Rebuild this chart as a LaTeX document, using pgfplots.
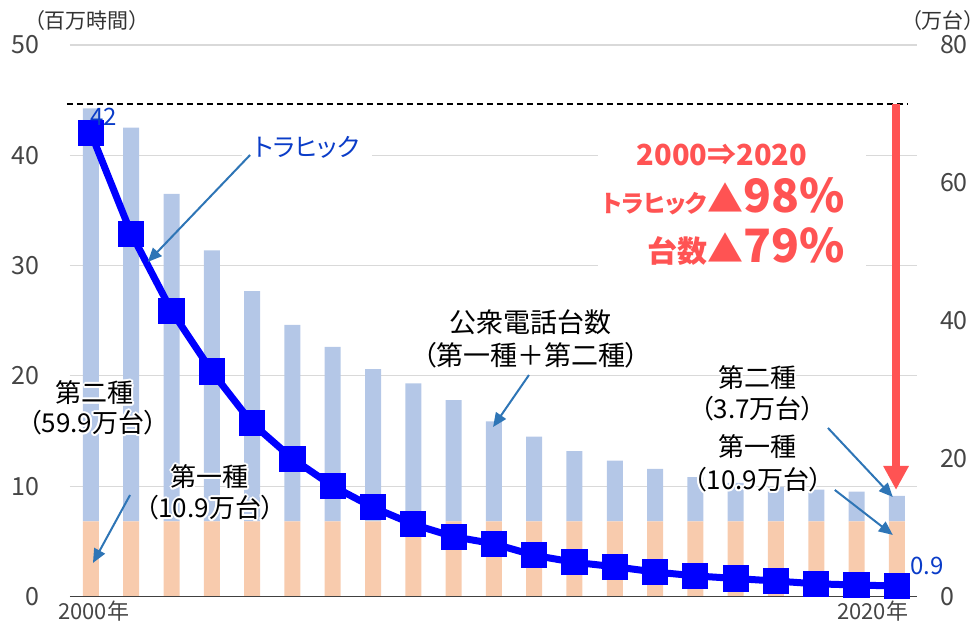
\documentclass[border=0pt]{standalone}
\usepackage{fontspec}
\setmainfont{Noto Sans CJK JP}[RawFeature=+palt]
\usepackage{pgfplots}
\pgfplotsset{compat=1.18}
\usetikzlibrary{arrows.meta}
\definecolor{barblue}{HTML}{B4C7E7}
\definecolor{barorange}{HTML}{F8CBAD}
\definecolor{lineblue}{HTML}{0000FF}
\definecolor{lblblue}{HTML}{0A3CC8}
\definecolor{arrowblue}{HTML}{2E75B6}
\definecolor{redc}{HTML}{FF5353}
\definecolor{gridc}{HTML}{D9D9D9}
\definecolor{tickc}{HTML}{454545}
\definecolor{basec}{HTML}{404040}
\newcommand{\fs}[1]{\fontsize{#1}{#1}\selectfont}
\newcommand{\glownode}[3]{%
  \foreach \a in {0,30,...,330}{\node[text=white, font=#2, inner sep=0pt] at ([shift={(\a:1pt)}]#1) {#3};}
  \node[text=black, font=#2, inner sep=0pt] at (#1) {#3};}
\pgfplotstableread{
x orange blue line
0  10.9 59.9 42.0
1  10.9 57.1 32.9
2  10.9 47.5 25.9
3  10.9 39.3 20.4
4  10.9 33.4 15.7
5  10.9 28.5 12.5
6  10.9 25.3 10.0
7  10.9 22.1 8.08
8  10.9 20.0 6.54
9  10.9 17.6 5.42
10 10.9 14.5 4.78
11 10.9 12.3 3.73
12 10.9 10.2 3.10
13 10.9 8.8  2.70
14 10.9 7.6  2.22
15 10.9 6.4  1.87
16 10.9 5.6  1.63
17 10.9 5.0  1.40
18 10.9 4.6  1.15
19 10.9 4.3  1.04
20 10.9 3.7  0.95
}\datatable
\begin{document}
\begin{tikzpicture}
\pgfplotsset{
  base/.style={at={(0,0)}, anchor=south west, scale only axis,
    width=423.5pt, height=275.75pt, xmin=-0.52, xmax=20.5, clip=false,
    xtick=\empty, /pgf/number format/assume math mode=true,
    major tick length=0pt, tick style={draw=none},
    ticklabel style={font=\fs{12.5}, text=tickc}}
}
\path[use as bounding box] (-35pt,-12.25pt) rectangle (450.5pt,298.25pt);
% left axis with grid
\begin{axis}[base, ymin=0, ymax=50, ytick={0,10,...,50},
  axis lines=left, axis line style={draw=none},
  ymajorgrids, grid style={gridc, line width=0.6pt},
  yticklabel style={xshift=-12pt}]
\addplot[draw=none, forget plot] coordinates {(0,0)};
\end{axis}
% right axis with bars
\begin{axis}[base, ymin=0, ymax=80, ytick={0,20,...,80},
  axis y line=right, axis x line=none, axis line style={draw=none},
  yticklabel style={xshift=8pt},
  ybar stacked, bar width=8pt]
\addplot[fill=barorange, draw=none] table[x=x, y=orange] {\datatable};
\addplot[fill=barblue, draw=none] table[x=x, y=blue] {\datatable};
\end{axis}
% line axis
\begin{axis}[base, ymin=0, ymax=50, hide axis]
\addplot[lineblue, line width=3.5pt, mark=square*, mark size=4.8pt,
  mark options={solid, fill=lineblue, draw=none}] table[x=x, y=line] {\datatable};
\draw[basec, line width=0.8pt] (axis cs:-0.52,0) -- (axis cs:20.5,0);
\coordinate (ylab) at (axis cs:-0.1,52.2);
\coordinate (yrlab) at (axis cs:21.14,52.2);
\coordinate (xl0) at (axis cs:0.07,-1.35);
\coordinate (xl20) at (axis cs:19.4,-1.35);
\coordinate (v42) at (axis cs:0.32,43.47);
\coordinate (v09) at (axis cs:20.74,2.77);
\coordinate (tlab) at (axis cs:5.36,40.75);
\coordinate (ta1) at (axis cs:3.95,40.03);
\coordinate (ta2) at (axis cs:1.41,30.33);
\coordinate (rb1) at (axis cs:12.58,42.48);
\coordinate (rb2) at (axis cs:19.23,28.88);
\coordinate (r1) at (axis cs:15.66,39.12);
\coordinate (r2) at (axis cs:18.71,34.77);
\coordinate (r3) at (axis cs:18.71,30.24);
\coordinate (ra1) at (axis cs:19.98,44.65);
\coordinate (ra2) at (axis cs:19.98,9.66);
\coordinate (d1) at (axis cs:-0.6,44.64);
\coordinate (d2) at (axis cs:20.25,44.64);
\coordinate (k1) at (axis cs:10.92,24.89);
\coordinate (k2) at (axis cs:10.92,21.9);
\coordinate (ka1) at (axis cs:10.87,20.08);
\coordinate (ka2) at (axis cs:9.98,15.37);
\coordinate (l1) at (axis cs:0.1,18.45);
\coordinate (l2) at (axis cs:0.05,15.73);
\coordinate (l3) at (axis cs:2.95,10.83);
\coordinate (l4) at (axis cs:2.95,8.02);
\coordinate (la1) at (axis cs:0.97,9.2);
\coordinate (la2) at (axis cs:0.05,3.04);
\coordinate (q1) at (axis cs:16.55,19.81);
\coordinate (q2) at (axis cs:16.55,17.0);
\coordinate (q3) at (axis cs:16.55,13.55);
\coordinate (q4) at (axis cs:16.55,10.56);
\coordinate (qa1) at (axis cs:18.29,15.28);
\coordinate (qa2) at (axis cs:19.9,9.02);
\coordinate (qb1) at (axis cs:18.46,9.66);
\coordinate (qb2) at (axis cs:19.9,5.58);
\end{axis}
% annotations
\node[font=\fs{10.5}, text=black!80] at (ylab) {（百万時間）};
\node[font=\fs{10.5}, text=black!80] at (yrlab) {（万台）};
\node[font=\fs{11}, text=tickc] at (xl0) {2000年};
\node[font=\fs{11}, text=tickc] at (xl20) {2020年};
\node[font=\fs{12}, text=lblblue] at (v42) {42};
\node[font=\fs{12}, text=lblblue] at (v09) {0.9};
\draw[black, line width=0.9pt, dash pattern=on 3pt off 2pt] (d1) -- (d2);
\node[fill=white, font=\fs{12.5}, text=lblblue, inner xsep=6pt, inner ysep=3pt] at (tlab) {トラヒック};
\draw[arrowblue, line width=1pt, -{Triangle[width=6pt,length=7pt]}] (ta1) -- (ta2);
\fill[white] (rb1) rectangle (rb2);
\node[anchor=base, text=redc, font=\bfseries\fs{14.5}, inner sep=0pt] at (r1) {2000⇒2020};
\node[anchor=base east, text=redc, font=\bfseries, inner sep=0pt] at (r2) {{\fs{12}トラヒック}{\fs{18}▲}{\fs{23}98\%}};
\node[anchor=base east, text=redc, font=\bfseries, inner sep=0pt] at (r3) {{\fs{15}台数}{\fs{18}▲}{\fs{23}79\%}};
\draw[redc, line width=3.8pt, -{Triangle[width=12pt,length=12pt]}] (ra1) -- (ra2);
\node[font=\fs{13.5}] at (k1) {公衆電話台数};
\node[font=\fs{13.5}] at (k2) {（第一種＋第二種）};
\draw[arrowblue, line width=1pt, -{Triangle[width=6pt,length=7pt]}] (ka1) -- (ka2);
\glownode{l1}{\fs{13}}{第二種}
\glownode{l2}{\fs{13}}{（59.9万台）}
\glownode{l3}{\fs{13}}{第一種}
\glownode{l4}{\fs{13}}{（10.9万台）}
\draw[arrowblue, line width=1pt, -{Triangle[width=6pt,length=7pt]}] (la1) -- (la2);
\glownode{q1}{\fs{13}}{第二種}
\glownode{q2}{\fs{13}}{（3.7万台）}
\glownode{q3}{\fs{13}}{第一種}
\glownode{q4}{\fs{13}}{（10.9万台）}
\draw[arrowblue, line width=1pt, -{Triangle[width=6pt,length=7pt]}] (qa1) -- (qa2);
\draw[arrowblue, line width=1pt, -{Triangle[width=6pt,length=7pt]}] (qb1) -- (qb2);
\end{tikzpicture}
\end{document}
